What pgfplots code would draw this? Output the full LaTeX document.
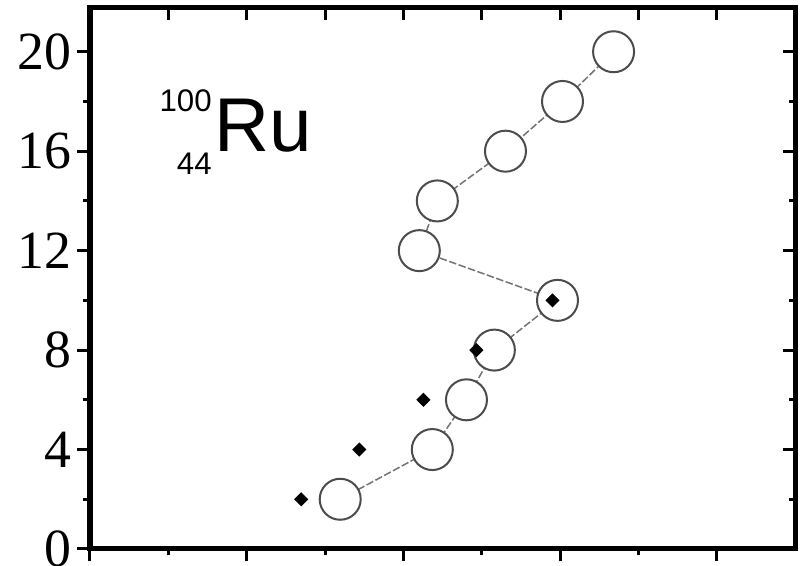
\documentclass[border=0pt]{standalone}
\usepackage{fontspec}
\setmainfont{Liberation Serif}
\newfontfamily\arial{Liberation Sans}
\usepackage{pgfplots}
\pgfplotsset{compat=1.18}
\begin{document}
\begin{tikzpicture}
\path[use as bounding box] (-36.0pt,-6.8pt) rectangle (285.2pt,219.6pt);
\begin{axis}[
  at={(0,0)}, anchor=south west,
  scale only axis, width=282pt, height=216.6pt,
  xmin=0, xmax=4.5, ymin=0, ymax=21.78,
  xtick={0,1,2,3,4}, xticklabels={},
  minor xtick={0.5,1.5,2.5,3.5},
  ytick={0,4,8,12,16,20}, minor ytick={2,6,10,14,18},
  tick align=outside, tick pos=left,
  major tick length=5pt, minor tick length=2.6pt,
  every tick/.style={black, line width=1.2pt},
  axis line style={line width=2pt},
  /pgf/number format/assume math mode=true,
  yticklabel style={font=\fontsize{21.5}{21.5}\selectfont, xshift=1pt},
  clip=false,
]
\addplot[black!55, line width=0.6pt, dash pattern=on 3pt off 1pt, mark=*, mark size=8.2pt,
  mark options={solid, fill=white, draw=black!70, line width=0.8pt}]
  coordinates {
  (1.597,2) (2.185,4) (2.403,6) (2.581,8) (2.984,10)
  (2.102,12) (2.217,14) (2.652,16) (3.016,18) (3.342,20)
  };
\addplot[only marks, mark=square*, mark size=1.8pt, black, mark options={rotate=45}]
  coordinates {
  (1.348,2) (1.719,4) (2.128,6) (2.466,8) (2.952,10)
  };
\node[anchor=base west, inner sep=0pt, font=\arial\fontsize{30.5}{30.5}\selectfont]
  at (axis cs:0.79,15.98) {Ru};
\node[anchor=base east, inner sep=0pt, font=\arial\fontsize{12.5}{12.5}\selectfont]
  at (axis cs:0.78,17.6) {100};
\node[anchor=base east, inner sep=0pt, font=\arial\fontsize{12.5}{12.5}\selectfont]
  at (axis cs:0.78,15.05) {44};
\end{axis}
\begin{axis}[
  at={(0,0)}, anchor=south west,
  scale only axis, width=282pt, height=216.6pt,
  xmin=0, xmax=4.5, ymin=0, ymax=21.78,
  xtick={0.5,1,1.5,2,2.5,3,3.5,4}, xticklabels={},
  ytick={4,8,12,16,20}, yticklabels={},
  minor ytick={2,6,10,14,18},
  tick align=inside, tick pos=right,
  major tick length=5pt, minor tick length=2.6pt,
  every tick/.style={black, line width=1.2pt},
  axis line style={line width=2pt},
]
\end{axis}
\end{tikzpicture}
\end{document}
